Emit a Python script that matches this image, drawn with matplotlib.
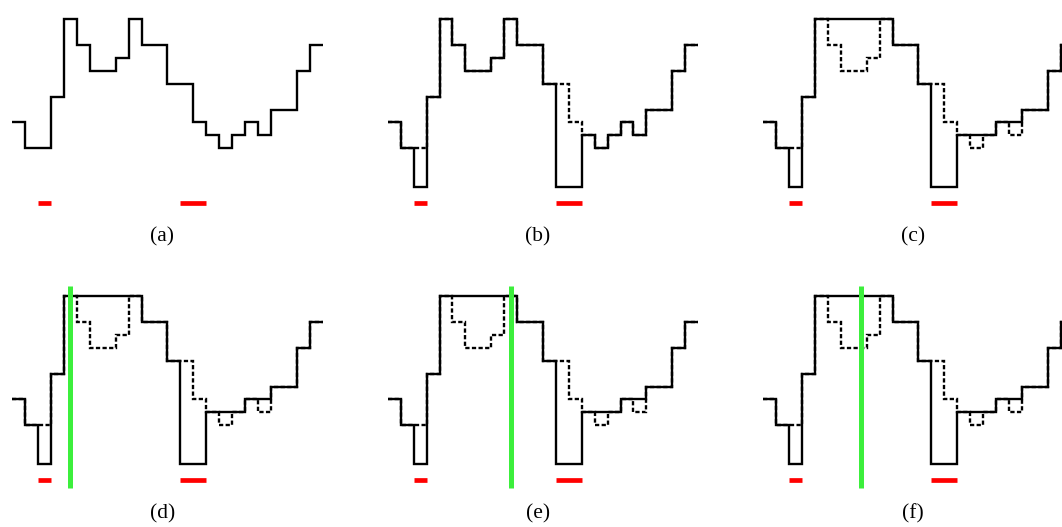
import matplotlib.pyplot as plt
import numpy as np

# step heights per unit cell (24 cells)
original = [2, 0, 0, 4, 10, 8, 6, 6, 7, 10, 8, 8, 5, 5, 2, 1, 0, 1, 2, 1, 3, 3, 6, 8]
marked = [2, 0, -3, 4, 10, 8, 6, 6, 7, 10, 8, 8, 5, -3, -3, 1, 0, 1, 2, 1, 3, 3, 6, 8]
filled = [2, 0, -3, 4, 10, 10, 10, 10, 10, 10, 8, 8, 5, -3, -3, 1, 1, 1, 2, 2, 3, 3, 6, 8]

# red marker spans (start, end) and their level
marker_spans = [(2, 3), (13, 15)]
marker_level = -4.25

# green vertical line per panel (None = no line)
green_x = [None, None, None, 4.45, 9.55, 7.55]
green_range = (-4.87, 10.75)

labels = ["(a)", "(b)", "(c)", "(d)", "(e)", "(f)"]
panel_solid = [original, marked, filled, filled, filled, filled]
panel_dashed = [False, True, True, True, True, True]

W, H = 1062, 527
s = 12.93  # pixels per unit
col_x0 = [12.3, 387.8, 763.3]
row_y0 = [148.3, 425.3]
xlo, xhi = -1, 25
ylo, yhi = -8.5, 12

fig = plt.figure(figsize=(W / 100, H / 100), dpi=100)

edges = np.arange(len(original) + 1)

for i in range(6):
    X0 = col_x0[i % 3]
    Y0 = row_y0[i // 3]
    left = (X0 + xlo * s) / W
    bottom = 1 - (Y0 - ylo * s) / H
    ax = fig.add_axes([left, bottom, (xhi - xlo) * s / W, (yhi - ylo) * s / H])
    ax.set_xlim(xlo, xhi)
    ax.set_ylim(ylo, yhi)
    ax.axis("off")

    if panel_dashed[i]:
        ax.stairs(original, edges, baseline=None, fill=False, color="black",
                  linewidth=1.7, linestyle=(0, (1.8, 1.0)))
    ax.stairs(panel_solid[i], edges, baseline=None, fill=False, color="black",
              linewidth=1.7)

    for a, b in marker_spans:
        ax.plot([a, b], [marker_level, marker_level], color="#ff0000",
                linewidth=3.4, solid_capstyle="butt")

    if green_x[i] is not None:
        ax.plot([green_x[i], green_x[i]], list(green_range), color="#3cef3c",
                linewidth=3.6, solid_capstyle="butt")

    ax.text(11.6, -6.85, labels[i], ha="center", va="center",
            fontsize=15.5, family="Liberation Serif", clip_on=False)

fig.savefig("out.png", dpi=100)
